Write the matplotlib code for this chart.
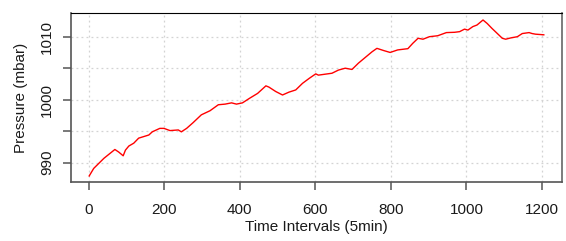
import matplotlib
matplotlib.use("Agg")
import matplotlib.pyplot as plt

# readings taken off the reference curve (index, pressure)
time_idx = [1, 13, 40, 69, 79, 91, 97, 106, 119, 132, 159, 168, 188, 199, 215,
            237, 245, 259, 276, 298, 321, 343, 361, 378, 391, 407, 425, 447, 469,
            477, 495, 513, 530, 548, 566, 584, 601, 608, 644, 661, 679, 697, 714,
            732, 750, 763, 781, 798, 818, 845, 858, 872, 885, 902, 924, 947, 969,
            982, 995, 1004, 1017, 1028, 1044, 1055, 1068, 1082, 1095, 1104, 1117,
            1135, 1148, 1166, 1174, 1183, 1205]
pressure = [987.9, 989.1, 990.7, 992.1, 991.7, 991.1, 992.0, 992.65, 993.1, 993.9,
            994.4, 994.9, 995.45, 995.45, 995.1, 995.2, 994.9, 995.45, 996.35,
            997.6, 998.25, 999.2, 999.3, 999.5, 999.3, 999.5, 1000.2, 1001.0,
            1002.2, 1002.0, 1001.3, 1000.75, 1001.2, 1001.55, 1002.6, 1003.4,
            1004.1, 1003.9, 1004.2, 1004.7, 1005.0, 1004.8, 1005.8, 1006.7, 1007.6,
            1008.15, 1007.8, 1007.5, 1007.9, 1008.1, 1008.95, 1009.75, 1009.6,
            1010.0, 1010.15, 1010.65, 1010.7, 1010.8, 1011.2, 1011.05, 1011.6,
            1011.85, 1012.65, 1012.1, 1011.3, 1010.5, 1009.75, 1009.6, 1009.8,
            1010.0, 1010.5, 1010.65, 1010.5, 1010.4, 1010.3]
x_ticks = [0, 200, 400, 600, 800, 1000, 1200]
y_ticks = [990, 995, 1000, 1005, 1010]
y_labels = ["990", "", "1000", "", "1010"]

plt.rcParams['font.family'] = ['Liberation Sans', 'DejaVu Sans']

fig = plt.figure(figsize=(5.66, 2.41), dpi=100)
ax = fig.add_axes([71 / 566, 1 - 182 / 241, (562 - 71) / 566, (182 - 13) / 241])

ax.plot(time_idx, pressure, color='red', linewidth=1.0)

ax.set_xlim(-47.2, 1253.2)
ax.set_ylim(986.94, 1013.76)
ax.set_xticks(x_ticks)
ax.set_yticks(y_ticks)
ax.set_yticklabels(y_labels, rotation=90, va='center')
ax.grid(True, color='#d3d3d3', linestyle=(0, (1.5, 2.5)), linewidth=0.9)
ax.set_axisbelow(True)

for side in ['left', 'bottom']:
    ax.spines[side].set_color('#555555')
    ax.spines[side].set_linewidth(1.2)
ax.spines['top'].set_color('black')
ax.spines['right'].set_color('#666666')
ax.spines['right'].set_linewidth(1.2)
ax.tick_params(axis='both', colors='#555555', length=6, width=1.1, labelsize=11,
               labelcolor='#1a1a1a')
ax.tick_params(axis='x', pad=9)
ax.tick_params(axis='y', pad=6)

ax.set_xlabel("Time Intervals (5min)", fontsize=11, color='#1a1a1a', labelpad=2)
ax.set_ylabel("Pressure (mbar)", fontsize=11, color='#1a1a1a', labelpad=9)

fig.savefig("out.png", dpi=100)
